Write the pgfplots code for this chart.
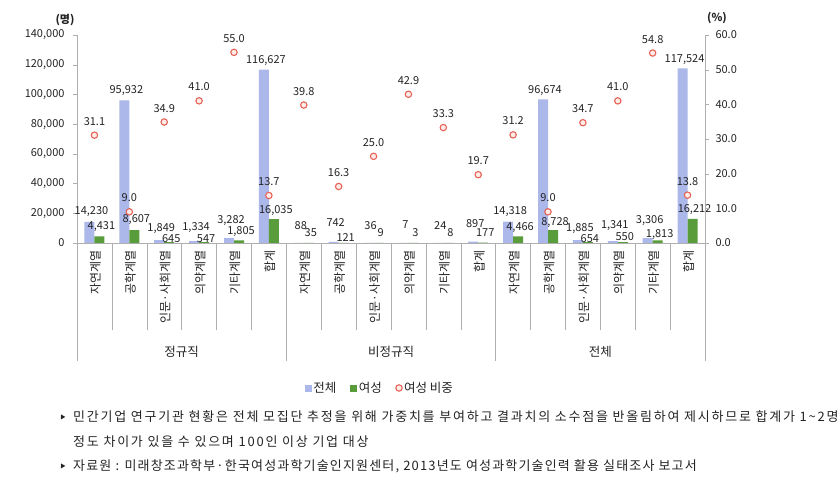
\documentclass[border=0pt]{standalone}
\usepackage{pgfplots}
\pgfplotsset{compat=1.18}
\usepackage{pgfplotstable}
\usepackage{fontspec}
\setmainfont{Noto Sans CJK KR}
\newfontfamily\notefont[LetterSpace=13.5]{Noto Sans CJK KR}
\newfontfamily\notefontb[LetterSpace=9]{Noto Sans CJK KR}
\definecolor{barblue}{RGB}{172,184,234}
\definecolor{bargreen}{RGB}{88,156,60}
\definecolor{markred}{RGB}{228,98,86}
\definecolor{markfill}{RGB}{255,236,232}
\definecolor{axgray}{RGB}{175,175,175}
\definecolor{txt}{RGB}{35,35,35}

\pgfplotstableread{
x total female gt gf pct
0 14230 4431 7 7 31.1
1 95932 8607 7 8 9.0
2 1849 645 9 0 34.9
3 1334 547 11 0 41.0
4 3282 1805 15 6 55.0
5 116627 16035 6 6 13.7
6 88 35 13 6 39.8
7 742 121 15 1 16.3
8 36 9 13 6 25.0
9 7 3 14 6 42.9
10 24 8 13 6 33.3
11 897 177 14 6 19.7
12 14318 4466 7 6 31.2
13 96674 8728 6 5 9.0
14 1885 654 9 0 34.7
15 1341 550 13 2 41.0
16 3306 1813 15 3 54.8
17 117524 16212 6 6 13.8
}\datatable

\newcommand{\lblfont}{\fontsize{11}{12}\selectfont}

\begin{document}
\begin{tikzpicture}[x=1pt,y=1pt]
\path[use as bounding box] (0,0) rectangle (839,492);
\pgfplotsset{
  base/.style={
    scale only axis, width=628pt, height=208pt,
    at={(77pt,249pt)}, anchor=south west,
    xmin=-0.5, xmax=17.5,
    axis line style={axgray},
    tick label style={font=\lblfont, text=txt},
    /pgf/number format/assume math mode=true,
    tick align=outside, major tick length=4pt,
    ytick style={axgray},
    clip=false,
  }
}
\begin{axis}[base,
  ymin=0, ymax=140000,
  ytick={0,20000,40000,60000,80000,100000,120000,140000},
  axis y line*=left, axis x line*=bottom,
  scaled y ticks=false,
  yticklabel style={xshift=-5pt,/pgf/number format/.cd,fixed,precision=0,1000 sep={,}},
  xtick={0,...,17},
  xticklabels={자연계열,공학계열,인문·사회계열,의약계열,기타계열,합계,자연계열,공학계열,인문·사회계열,의약계열,기타계열,합계,자연계열,공학계열,인문·사회계열,의약계열,기타계열,합계},
  xticklabel style={rotate=90, anchor=east, font=\fontsize{12}{13}\selectfont, yshift=-1pt},
  xtick style={draw=none},
  ybar=0pt, bar width=10pt,
  nodes near coords={\pgfmathprintnumber[fixed,precision=0,1000 sep={,}]{\pgfplotspointmeta}},
  nodes near coords align={anchor=base},
  every node near coord/.append style={font=\lblfont, text=txt, inner sep=0pt},
]
\addplot[fill=barblue, draw=none,
  visualization depends on={\thisrow{gt}\as\gapt},
  every node near coord/.append style={yshift=\gapt pt, xshift=2pt}]
  table[x=x,y=total]{\datatable};
\addplot[fill=bargreen, draw=none,
  visualization depends on={\thisrow{gf}\as\gapf},
  every node near coord/.append style={yshift=\gapf pt, xshift=2pt}]
  table[x=x,y=female]{\datatable};
\pgfplotsinvokeforeach{0.5,1.5,2.5,3.5,4.5,6.5,7.5,8.5,9.5,10.5,12.5,13.5,14.5,15.5,16.5}{
  \draw[axgray] (axis cs:#1,0) -- ++(0pt,-87pt);
}
\pgfplotsinvokeforeach{-0.5,5.5,11.5,17.5}{
  \draw[axgray] (axis cs:#1,0) -- ++(0pt,-118pt);
}
\node[font=\fontsize{12.5}{13}\selectfont, text=txt] at ([yshift=-109pt]axis cs:2.5,0) {정규직};
\node[font=\fontsize{12.5}{13}\selectfont, text=txt] at ([yshift=-109pt]axis cs:8.5,0) {비정규직};
\node[font=\fontsize{12.5}{13}\selectfont, text=txt] at ([yshift=-109pt]axis cs:14.5,0) {전체};
\end{axis}

\begin{axis}[base,
  ymin=0, ymax=60, ytick={0,10,20,30,40,50,60},
  axis y line*=right, axis x line=none,
  yticklabel style={xshift=3pt,/pgf/number format/.cd,fixed,fixed zerofill,precision=1},
  legend style={at={(0.4825,-0.697)}, anchor=center, draw=none, fill=none,
    legend columns=3, font=\fontsize{12.5}{13}\selectfont, text=txt,
    /tikz/every even column/.append style={column sep=12pt}},
  nodes near coords={\pgfmathprintnumber[fixed,fixed zerofill,precision=1]{\pgfplotspointmeta}},
  nodes near coords align={anchor=base},
  every node near coord/.append style={yshift=10pt, font=\lblfont, text=txt, inner sep=0pt},
]
\addlegendimage{legend image code/.code={\fill[barblue] (0pt,-3pt) rectangle (6pt,3pt);}}
\addlegendimage{legend image code/.code={\fill[bargreen] (0pt,-3pt) rectangle (6pt,3pt);}}
\addplot[only marks, mark=*, mark size=3.2pt,
  mark options={draw=markred, fill=markfill, line width=1.1pt}]
  table[x=x,y=pct]{\datatable};
\legend{전체,여성,여성 비중}
\end{axis}

\node[font=\bfseries\fontsize{11}{12}\selectfont, text=txt] at (65,472) {(명)};
\node[font=\bfseries\fontsize{11}{12}\selectfont, text=txt] at (717,474) {(\%)};

\node[anchor=base, text=txt] at (63,72) {\scalebox{0.55}{▶}};
\node[anchor=base west, inner sep=0pt, text=txt, font=\notefont\fontsize{13}{14}\selectfont] at (73,70) {민간기업 연구기관 현황은 전체 모집단 추정을 위해 가중치를 부여하고 결과치의 소수점을 반올림하여 제시하므로 합계가 1\textasciitilde 2명};
\node[anchor=base west, inner sep=0pt, text=txt, font=\notefont\fontsize{13}{14}\selectfont] at (73,45) {정도 차이가 있을 수 있으며 100인 이상 기업 대상};
\node[anchor=base, text=txt] at (63,23) {\scalebox{0.55}{▶}};
\node[anchor=base west, inner sep=0pt, text=txt, font=\notefontb\fontsize{13}{14}\selectfont] at (73,21) {자료원 : 미래창조과학부·한국여성과학기술인지원센터, 2013년도 여성과학기술인력 활용 실태조사 보고서};
\end{tikzpicture}
\end{document}
